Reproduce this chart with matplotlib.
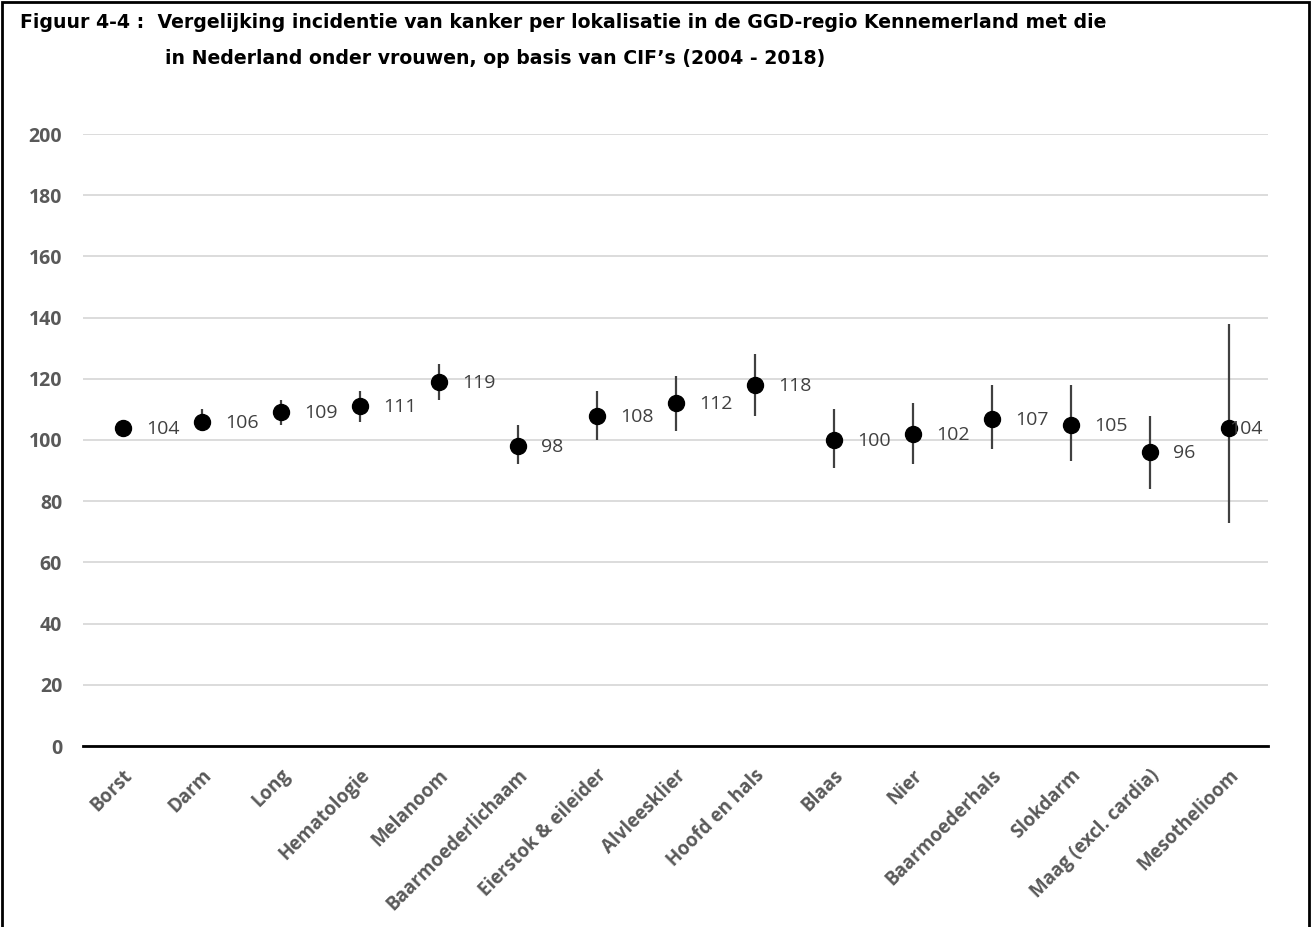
import matplotlib
matplotlib.use("Agg")
import matplotlib.pyplot as plt
from matplotlib.patches import Rectangle
import numpy as np

categories = ["Borst", "Darm", "Long", "Hematologie", "Melanoom", "Baarmoederlichaam",
              "Eierstok & eileider", "Alvleesklier", "Hoofd en hals", "Blaas", "Nier",
              "Baarmoederhals", "Slokdarm", "Maag (excl. cardia)", "Mesothelioom"]
sir = [104, 106, 109, 111, 119, 98, 108, 112, 118, 100, 102, 107, 105, 96, 104]
lower = [103, 103, 105, 106, 113, 92, 100, 103, 108, 91, 92, 97, 93, 84, 73]
upper = [105, 110, 113, 116, 125, 105, 116, 121, 128, 110, 112, 118, 118, 108, 138]
yticks = [0, 20, 40, 60, 80, 100, 120, 140, 160, 180, 200]
title_line1 = "Figuur 4-4 :  Vergelijking incidentie van kanker per lokalisatie in de GGD-regio Kennemerland met die"
title_line2 = "in Nederland onder vrouwen, op basis van CIF\u2019s (2004 - 2018)"

W, H = 1312, 927
fig = plt.figure(figsize=(W / 100, H / 100), dpi=100)

# outer frame
fig.patches.append(Rectangle((2 / W, -0.01), (1307 / W), 1 - 2 / H + 0.01, transform=fig.transFigure,
                             fill=False, edgecolor="black", linewidth=2))

ax = fig.add_axes([83 / W, 1 - 746 / H, (1268 - 83) / W, (746 - 134) / H])
x = np.arange(len(categories))
sir_a = np.array(sir)
yerr = np.vstack([sir_a - np.array(lower), np.array(upper) - sir_a])
ax.errorbar(x, sir_a, yerr=yerr, fmt="o", color="black", markersize=11.5,
            ecolor="#404040", elinewidth=1.6, capsize=0, zorder=3)

for i, v in enumerate(sir):
    dx = 24 if i < len(sir) - 1 else 1
    ax.annotate(str(v), (i, v), xytext=(dx, -1), textcoords="offset pixels",
                ha="left", va="center", fontsize=14, color="#404040",
                family="Open Sans", zorder=4)

ax.set_xlim(-0.5, len(categories) - 0.5)
ax.set_ylim(0, 200)
ax.set_yticks(yticks)
ax.set_yticklabels([str(t) for t in yticks], fontsize=14, fontweight="bold",
                   color="#595959", family="Open Sans")
ax.set_xticks(x)
ax.set_xticklabels(categories, rotation=45, ha="right", rotation_mode="anchor",
                   fontsize=13.5, fontweight="bold", color="#595959", family="Open Sans")
ax.tick_params(axis="x", length=0, pad=14)
ax.tick_params(axis="y", length=0, pad=15)
ax.grid(axis="y", color="#d9d9d9", linewidth=1.3)
ax.set_axisbelow(True)
for s in ["top", "right", "left"]:
    ax.spines[s].set_visible(False)
ax.spines["bottom"].set_color("black")
ax.spines["bottom"].set_linewidth(2)
ax.spines["bottom"].set_zorder(2)

fig.text(20 / W, 1 - 23 / H, title_line1, ha="left", va="center", fontsize=13.6,
         fontweight="bold", family="DejaVu Sans", color="black")
fig.text(165 / W, 1 - 58 / H, title_line2, ha="left", va="center", fontsize=13.6,
         fontweight="bold", family="DejaVu Sans", color="black")

fig.savefig("out.png", dpi=100)
